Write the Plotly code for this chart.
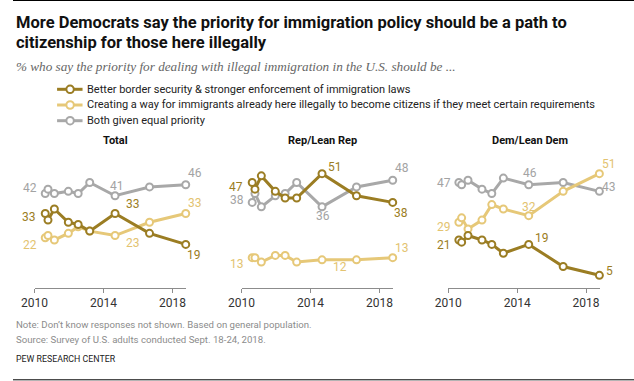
import plotly.graph_objects as go

W, H = 634, 381

# ---- data ----
survey_years = [2010.62, 2010.78, 2011.15, 2011.96, 2012.53, 2013.2, 2014.67, 2016.67, 2018.77]
panels = ["Total", "Rep/Lean Rep", "Dem/Lean Dem"]
series_names = [
    "Better border security & stronger enforcement of immigration laws",
    "Creating a way for immigrants already here illegally to become citizens if they meet certain requirements",
    "Both given equal priority",
]
total_border = [33, 30, 35, 29, 28, 25, 33, 24, 19]
total_citizen = [22, 23, 21, 24, 27, 25, 23, 29, 33]
total_both = [42, 44, 42, 43, 42, 47, 41, 45, 46]
rep_border = [47, 44, 50, 43, 40, 40, 51, 41, 38]
rep_citizen = [13, 13, 11, 14, 14, 11, 12, 12, 13]
rep_both = [38, 42, 36, 41, 42, 47, 36, 45, 48]
dem_border = [21, 20, 23, 21, 19, 15, 19, 9, 5]
dem_citizen = [29, 31, 26, 30, 37, 35, 32, 43, 51]
dem_both = [47, 46, 48, 44, 42, 49, 46, 47, 43]
tick_years = [2010, 2014, 2018]

data = [
    [total_border, total_citizen, total_both],
    [rep_border, rep_citizen, rep_both],
    [dem_border, dem_citizen, dem_both],
]

# ---- style ----
colors = ["#9b7d23", "#e6c878", "#a8a8a8"]
label_colors = ["#9b7d23", "#e3c370", "#a3a3a3"]
NUM_FONT = "Roboto"

def px(x):
    return x / W

def py(y):
    return 1 - y / H

x_left_px = [22, 233.3, 444.3]
px_per_year = 17.6
x_range = [2010, 2018.8]
y_range = [-0.6, 56]
y_dom = [py(287.7), py(287.7 - (y_range[1] - y_range[0]) * 2.21)]

# label offsets (dx, dy px; dy positive = down) per panel, per series: {point index: offset}
label_offsets = [
    [{0: (-16, 4), 6: (18, -9), 8: (8, 11)},
     {0: (-15, 7), 6: (18, 7), 8: (9, -10)},
     {0: (-15, -6), 6: (2, -10), 8: (9, -12)}],
    [{0: (-16, 4), 6: (13, -7), 8: (8, 11)},
     {0: (-15, 6), 6: (18, 7), 8: (9, -10)},
     {0: (-15, -2), 6: (1, 9), 8: (9, -12)}],
    [{0: (-15, 5), 6: (13, -6), 8: (10, -4)},
     {0: (-15, 5), 6: (0, -9), 8: (10, -10)},
     {0: (-15, 0), 6: (1, -12), 8: (10, -4)}],
]

fig = go.Figure()
annotations = []
layout = {}

for p in range(3):
    suffix = "" if p == 0 else str(p + 1)
    xa, ya = "x" + suffix, "y" + suffix
    for s in [2, 1, 0]:
        fig.add_trace(go.Scatter(
            x=survey_years, y=data[p][s], xaxis=xa, yaxis=ya,
            mode="lines+markers", cliponaxis=False, showlegend=False,
            line=dict(color=colors[s], width=3),
            marker=dict(symbol="circle", size=7, color="white",
                        line=dict(color=colors[s], width=2)),
            hoverinfo="skip",
        ))
        for i, (dx, dy) in label_offsets[p][s].items():
            annotations.append(dict(
                x=survey_years[i], y=data[p][s][i], xref=xa, yref=ya,
                text=str(data[p][s][i]), showarrow=False,
                xshift=dx, yshift=-dy, xanchor="center", yanchor="middle",
                font=dict(family=NUM_FONT, size=12, color=label_colors[s]),
            ))
    x0 = x_left_px[p]
    x1 = x0 + (x_range[1] - x_range[0]) * px_per_year
    layout["xaxis" + suffix] = dict(
        domain=[px(x0), px(x1)], range=x_range, anchor=ya,
        showline=True, linecolor="#8c8c8c", linewidth=1,
        showgrid=False, zeroline=False,
        ticks="outside", ticklen=4, tickcolor="#8c8c8c", tickwidth=1,
        tickvals=tick_years, ticktext=[str(t) for t in tick_years],
        tickfont=dict(family=NUM_FONT, size=12, color="#333333"),
        fixedrange=True,
    )
    layout["yaxis" + suffix] = dict(
        domain=y_dom, range=y_range, anchor=xa, visible=False, fixedrange=True,
    )

# panel titles
for name, cx in zip(panels, [105, 316, 528]):
    annotations.append(dict(
        x=px(cx), y=py(140.7), xref="paper", yref="paper", text="<b>" + name + "</b>",
        showarrow=False, xanchor="center", yanchor="middle",
        font=dict(family="Roboto", size=11, color="#111111"),
    ))

TITLE_FONT = "Liberation Sans Narrow, Roboto"
annotations += [
    dict(x=px(1), y=py(22.5), xref="paper", yref="paper", showarrow=False,
         xanchor="left", yanchor="middle",
         text="<b>More Democrats say the priority for immigration policy should be a path to</b>",
         font=dict(family=TITLE_FONT, size=16.5, color="#111111")),
    dict(x=px(1), y=py(42.5), xref="paper", yref="paper", showarrow=False,
         xanchor="left", yanchor="middle",
         text="<b>citizenship for those here illegally</b>",
         font=dict(family=TITLE_FONT, size=16.5, color="#111111")),
    dict(x=px(1), y=py(66.5), xref="paper", yref="paper", showarrow=False,
         xanchor="left", yanchor="middle",
         text="<i>% who say the priority for dealing with illegal immigration in the U.S. should be ...</i>",
         font=dict(family="Liberation Serif", size=13.2, color="#666666")),
]

# legend
shapes = []
leg_y = [89.3, 105, 120.7]
for s in range(3):
    shapes.append(dict(type="line", xref="paper", yref="paper",
                       x0=px(45), x1=px(71), y0=py(leg_y[s]), y1=py(leg_y[s]),
                       line=dict(color=colors[s], width=3)))
    shapes.append(dict(type="circle", xref="paper", yref="paper",
                       x0=px(58.3 - 3.8), x1=px(58.3 + 3.8),
                       y0=py(leg_y[s] + 3.8), y1=py(leg_y[s] - 3.8),
                       fillcolor="white", line=dict(color=colors[s], width=2)))
    annotations.append(dict(
        x=px(74), y=py(leg_y[s]), xref="paper", yref="paper", showarrow=False,
        xanchor="left", yanchor="middle", text=series_names[s],
        font=dict(family="Roboto", size=11, color="#222222"),
    ))

# frame lines
shapes.append(dict(type="line", xref="paper", yref="paper", x0=0, x1=1,
                   y0=py(0.5), y1=py(0.5), line=dict(color="#000000", width=1)))
shapes.append(dict(type="line", xref="paper", yref="paper", x0=0, x1=1,
                   y0=py(379.8), y1=py(379.8), line=dict(color="#000000", width=1)))

# notes
annotations += [
    dict(x=px(1), y=py(324.5), xref="paper", yref="paper", showarrow=False,
         xanchor="left", yanchor="middle",
         text="Note: Don\u2019t know responses not shown. Based on general population.",
         font=dict(family="Roboto", size=9.65, color="#8c8c8c")),
    dict(x=px(1), y=py(339.5), xref="paper", yref="paper", showarrow=False,
         xanchor="left", yanchor="middle",
         text="Source: Survey of U.S. adults conducted Sept. 18-24, 2018.",
         font=dict(family="Roboto", size=9.65, color="#8c8c8c")),
    dict(x=px(1), y=py(359), xref="paper", yref="paper", showarrow=False,
         xanchor="left", yanchor="middle",
         text="PEW RESEARCH CENTER",
         font=dict(family="Roboto", size=8.8, color="#222222")),
]

fig.update_layout(
    width=W, height=H, margin=dict(l=0, r=0, t=0, b=0),
    paper_bgcolor="white", plot_bgcolor="white",
    annotations=annotations, shapes=shapes, showlegend=False,
    **layout,
)

fig.write_html(
    "out.html", include_plotlyjs=True, config={"displayModeBar": False},
    post_script="document.body.style.margin='0';document.body.style.padding='0';document.body.style.overflow='hidden';",
)
